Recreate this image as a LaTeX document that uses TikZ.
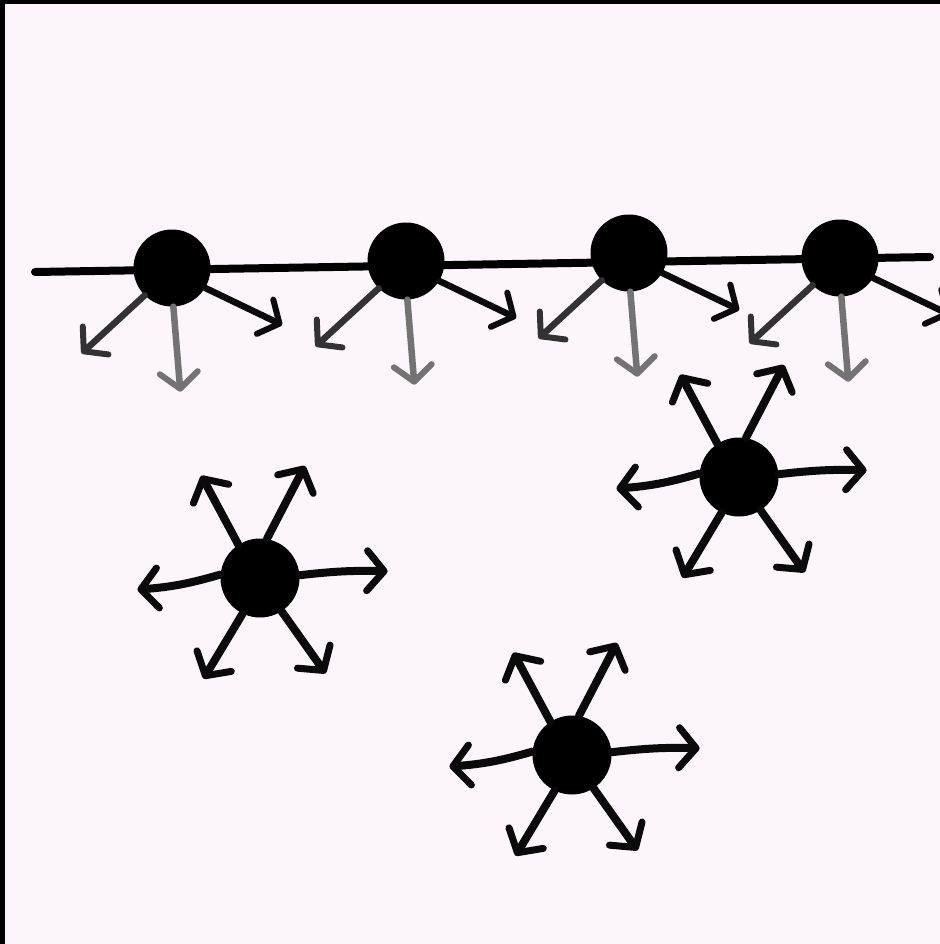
\documentclass[tikz,border=0pt]{standalone}
\usetikzlibrary{arrows.meta}
\definecolor{bg}{RGB}{252,245,251}
\definecolor{ink}{RGB}{10,10,10}
\definecolor{inkdl}{RGB}{50,50,50}
\definecolor{inkd}{RGB}{115,115,115}
\tikzset{
  dot/.style={circle,fill=black,inner sep=0pt,minimum size=79pt},
  sdot/.style={circle,fill=black,inner sep=0pt,minimum size=77pt},
  rail/.style={line width=8pt,line cap=round,draw=black},
  farr/.style={line width=8pt,line cap=round,line join=round,draw=ink,
    -{Straight Barb[length=17pt,width=40pt,line width=7pt,round]}},
  larr/.style={line width=6.5pt,line cap=round,line join=round,
    -{Straight Barb[length=16pt,width=38pt,line width=6pt,round]}},
}
\begin{document}
\begin{tikzpicture}[x=1pt,y=-1pt]
\useasboundingbox (0,0) rectangle (939,944);
\fill[bg] (-20,-20) rectangle (960,964);
\fill[black] (-20,-20) rectangle (960,4);
\fill[black] (-20,-20) rectangle (5,964);

% rail
\coordinate (Lend) at (35,272);
\coordinate (Rend) at (930,257);
\draw[rail] (Lend) -- (Rend);

% particles on the rail
\node[sdot] (d1) at (172,268) {};
\node[sdot] (d2) at (406,261) {};
\node[sdot] (d3) at (629,253) {};
\node[sdot] (d4) at (840,258) {};

\foreach \d in {d1,d2,d3,d4}{
  \draw[larr,draw=inkdl] (\d.225) -- ++(-63,58);
  \draw[larr,draw=inkd] (\d.-88) -- ++(7,85);
  \draw[larr,draw=ink] (\d.-31) -- ++(77,37);
}

% free particles
\node[dot] (p1) at (260,578) {};
\node[dot] (p2) at (739,477) {};
\node[dot] (p3) at (572,755) {};

\foreach \p in {p1,p2,p3}{
  \draw[farr] (\p.123) -- ++(-37,-69);
  \draw[farr] (\p.80) -- ++(38,-73);
  \draw[farr] (\p.4) to[bend left=4] ++(88,-4);
  \draw[farr] (\p.175) to[bend left=6] ++(-83,15);
  \draw[farr] (\p.244) -- ++(-39,65);
  \draw[farr] (\p.-57) -- ++(44,62);
}
\end{tikzpicture}
\end{document}
